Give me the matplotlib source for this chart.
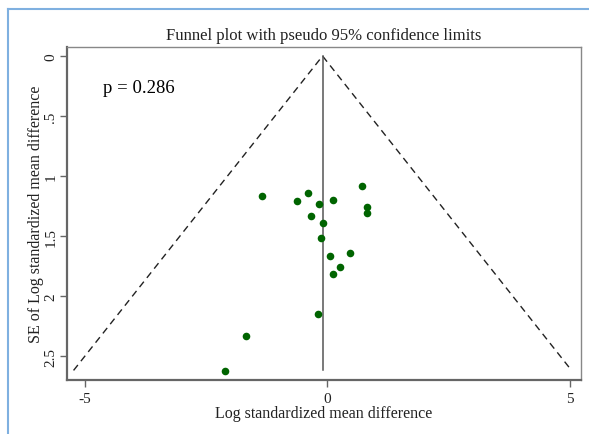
import matplotlib.pyplot as plt
from matplotlib.lines import Line2D

# effect estimates (log SMD) and their standard errors
effect = [-1.35, -0.62, -0.41, -0.165, 0.11, 0.715, 0.81, 0.82, -0.33,
          -0.09, -0.14, 0.06, 0.46, 0.27, 0.12, -0.19, -1.68, -2.12]
se = [1.167, 1.206, 1.139, 1.233, 1.197, 1.081, 1.26, 1.308, 1.336,
      1.394, 1.517, 1.667, 1.639, 1.758, 1.819, 2.153, 2.336, 2.622]
pooled = -0.1
se_max = 2.62
p_text = 'p = 0.286'

xticks = [-5, 0, 5]
yticks = [0, 0.5, 1, 1.5, 2, 2.5]
ytick_labels = ['0', '.5', '1', '1.5', '2', '2.5']

plt.rcParams['font.family'] = ['Liberation Serif', 'DejaVu Serif']
plt.rcParams['axes.unicode_minus'] = False

fig = plt.figure(figsize=(5.89, 4.35), dpi=100)
ax = fig.add_axes([0.1138, 0.1241, 0.8726, 0.7656])

# funnel limits
ax.plot([pooled - 1.96 * se_max, pooled, pooled + 1.96 * se_max],
        [se_max, 0, se_max], color='#222222', lw=1.0, ls=(0, (5, 3.5)))
ax.plot([pooled, pooled], [0, se_max], color='#555555', lw=1.1)

ax.scatter(effect, se, s=30, color='#006400', zorder=3, linewidths=0)

ax.text(-4.62, 0.26, p_text, fontsize=13.5, va='center')

ax.set_xlim(-5.37, 5.23)
ax.set_ylim(2.7, -0.075)
ax.set_xticks(xticks)
ax.set_yticks(yticks)
ax.set_yticklabels(ytick_labels, rotation=90, va='center')
ax.tick_params(direction='out', length=5, width=1, color='#666666',
               labelsize=11, labelcolor='#222222')
ax.tick_params(axis='y', pad=2)
for side in ['left', 'bottom']:
    ax.spines[side].set_linewidth(1.6)
    ax.spines[side].set_color('#666666')
for side in ['top', 'right']:
    ax.spines[side].set_linewidth(1.0)
    ax.spines[side].set_color('#888888')

ax.set_xlabel('Log standardized mean difference', fontsize=11.5,
              color='#222222', labelpad=0)
ax.set_ylabel('SE of Log standardized mean difference', fontsize=11.5,
              color='#222222', labelpad=0)
ax.set_title('Funnel plot with pseudo 95% confidence limits', fontsize=12,
             color='#222222', pad=6)

# light blue frame around the figure
fig.add_artist(Line2D([8 / 589, 8 / 589], [0, 1 - 10 / 435],
                      transform=fig.transFigure, color='#7fb0e0', lw=1.5))
fig.add_artist(Line2D([8 / 589, 1], [1 - 10 / 435, 1 - 10 / 435],
                      transform=fig.transFigure, color='#7fb0e0', lw=1.5))

plt.savefig('out.png', dpi=100)
